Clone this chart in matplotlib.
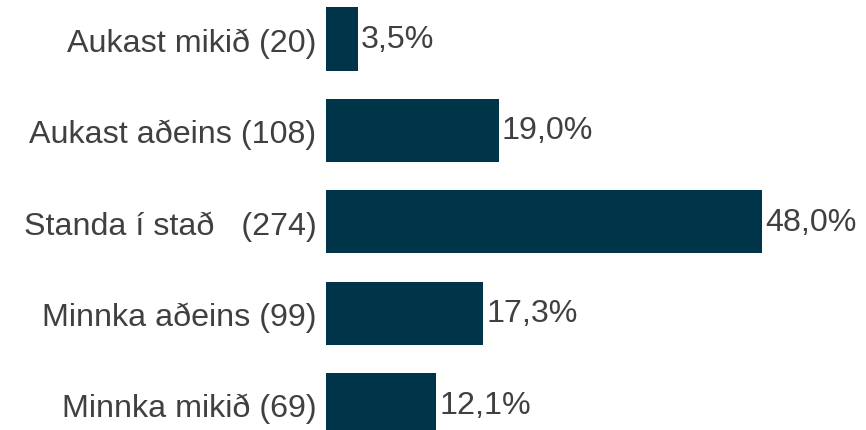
import matplotlib
matplotlib.use("Agg")
import matplotlib.pyplot as plt

categories = ["Aukast mikið (20)", "Aukast aðeins (108)", "Standa í stað   (274)",
              "Minnka aðeins (99)", "Minnka mikið (69)"]
values = [3.5, 19.0, 48.0, 17.3, 12.1]
value_labels = ["3,5%", "19,0%", "48,0%", "17,3%", "12,1%"]

bar_color = "#003449"
text_color = "#404040"

plt.rcParams["font.family"] = ["Liberation Sans", "DejaVu Sans"]

fig = plt.figure(figsize=(8.66, 4.31), dpi=100)
ax = fig.add_axes([326 / 866, 0, 1 - 326 / 866, 1])

pos = list(range(len(categories)))
ax.barh(pos, values, height=0.69, color=bar_color, left=0)
ax.set_xlim(0, 540 / 9.08)
ax.set_ylim(4.278, -0.4376)

for p, v, lab in zip(pos, values, value_labels):
    ax.text(v + 0.35, p, lab, va="center", ha="left", fontsize=23.2, color=text_color)

ax.set_yticks(pos)
ax.set_yticklabels(categories, fontsize=23.2, color=text_color)
ax.tick_params(axis="y", length=0, pad=7)
ax.set_xticks([])
for s in ax.spines.values():
    s.set_visible(False)

fig.savefig("out.png", dpi=100)
